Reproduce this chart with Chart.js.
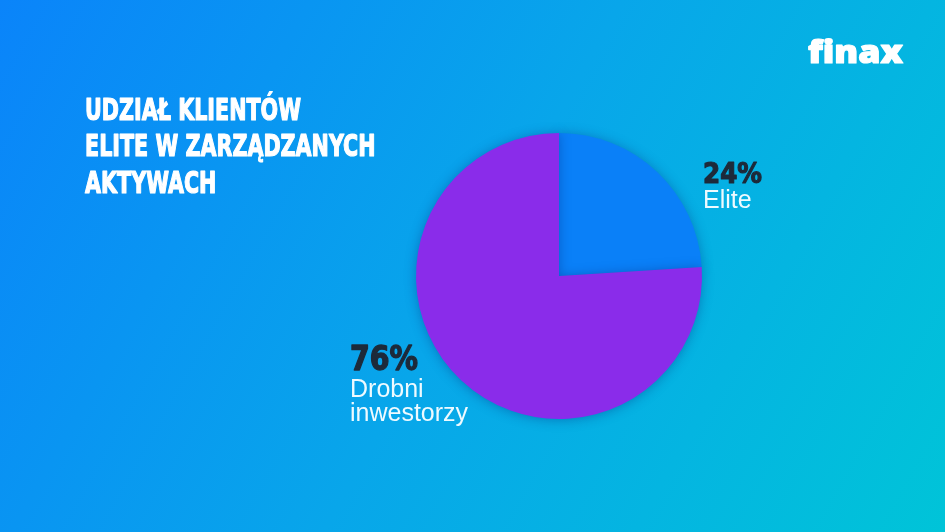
<!DOCTYPE html>
<html>
<head>
<meta charset="utf-8">
<script src="https://cdn.jsdelivr.net/npm/chart.js@4/dist/chart.umd.min.js"></script>
<style>
html,body{margin:0;padding:0;background:#0a90f4;}
#wrap{position:relative;width:945px;height:532px;}
canvas{display:block;}
</style>
</head>
<body>
<div id="wrap"><canvas id="c" width="945" height="532"></canvas></div>
<script>
const categories = ["Elite", "Drobni inwestorzy"];
const shares = [24, 76];
const sliceColors = ["#0a80f8", "#8a2cea"];
const titleLines = ["UDZIAŁ KLIENTÓW", "ELITE W ZARZĄDZANYCH", "AKTYWACH"];
const valueLabels = ["24%", "76%"];
const nameLabels = [["Elite"], ["Drobni", "inwestorzy"]];
const brand = "finax";

const condensed = '"Liberation Sans Narrow", "DejaVu Sans Condensed", "Liberation Sans", sans-serif';
const sans = '"Liberation Sans", Arial, sans-serif';

function fitText(ctx, text, x, y, targetW, stroke) {
  const w = ctx.measureText(text).width;
  const s = targetW / w;
  ctx.save();
  ctx.translate(x, y);
  ctx.scale(s, 1);
  ctx.fillText(text, 0, 0);
  if (stroke) { ctx.lineWidth = stroke; ctx.lineJoin = 'round'; ctx.strokeText(text, 0, 0); }
  ctx.restore();
}

const bgPlugin = {
  id: 'bg',
  beforeDraw(chart) {
    const ctx = chart.ctx;
    const g = ctx.createLinearGradient(0, 0, 945, 532);
    g.addColorStop(0, '#0a84fa');
    g.addColorStop(0.5, '#08a6ea');
    g.addColorStop(1, '#00c4d8');
    ctx.save();
    ctx.fillStyle = g;
    ctx.fillRect(0, 0, chart.width, chart.height);
    ctx.restore();
  },
  beforeDatasetsDraw(chart) {
    const ctx = chart.ctx;
    ctx.save();
    ctx.shadowColor = 'rgba(0,30,110,0.35)';
    ctx.shadowBlur = 12;
    ctx.shadowOffsetX = 0;
    ctx.shadowOffsetY = 1;
  },
  afterDatasetsDraw(chart) {
    chart.ctx.restore();
  },
  afterDraw(chart) {
    const ctx = chart.ctx;
    ctx.save();
    ctx.textBaseline = 'alphabetic';
    ctx.textAlign = 'left';
    // title
    ctx.fillStyle = '#ffffff';
    ctx.strokeStyle = '#ffffff';
    ctx.font = 'bold 31px ' + condensed;
    const w1 = ctx.measureText(titleLines[0]).width;
    const sc = 216 / w1;
    const tb = [120, 156, 193];
    titleLines.forEach((t, i) => {
      ctx.save();
      ctx.translate(85, tb[i]);
      ctx.scale(sc, 1);
      ctx.fillText(t, 0, 0);
      ctx.lineWidth = 1.2;
      ctx.lineJoin = 'round';
      ctx.strokeText(t, 0, 0);
      ctx.restore();
    });
    // brand
    ctx.font = '800 31px "Open Sans", "Liberation Sans", sans-serif';
    fitText(ctx, brand, 808, 63, 95, 1.2);

    // value labels
    ctx.fillStyle = '#1d2a3a';
    ctx.strokeStyle = '#1d2a3a';
    ctx.font = 'bold 29px ' + condensed;
    fitText(ctx, valueLabels[0], 703, 183, 59, 1.2);
    ctx.font = 'bold 34px ' + condensed;
    fitText(ctx, valueLabels[1], 350, 370, 68, 1.3);

    // name labels
    ctx.fillStyle = '#eefaff';
    ctx.font = '25px ' + sans;
    ctx.fillText(nameLabels[0][0], 703, 208);
    ctx.fillText(nameLabels[1][0], 350, 397);
    ctx.fillText(nameLabels[1][1], 350, 421);
    ctx.restore();
  }
};

new Chart(document.getElementById('c'), {
  type: 'pie',
  data: {
    labels: categories,
    datasets: [{
      data: shares,
      backgroundColor: sliceColors,
      borderWidth: 0,
      hoverOffset: 0
    }]
  },
  options: {
    responsive: false,
    animation: false,
    events: [],
    layout: { padding: { left: 416, right: 243, top: 133, bottom: 113 } },
    plugins: {
      legend: { display: false },
      tooltip: { enabled: false },
      title: { display: false }
    }
  },
  plugins: [bgPlugin]
});
</script>
</body>
</html>
